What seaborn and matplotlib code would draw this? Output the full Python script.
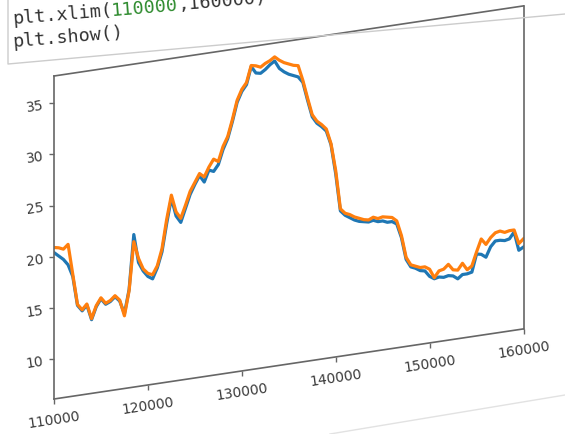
import numpy as np
import pandas as pd
import matplotlib
matplotlib.use('Agg')
import matplotlib.pyplot as plt
import matplotlib.transforms as mtransforms
from matplotlib.axes import Axes
from matplotlib.projections import register_projection
from matplotlib.lines import Line2D
import seaborn as sns

# the notebook screenshot is sheared: the right side sits higher than the left
SHEAR = 0.1493

# sampled series (every 500 steps from 110000 to 160000)
x_vals = np.arange(110000, 160001, 500)
blue_vals = [
    20.4, 20.0, 19.6, 19.0, 17.8, 14.9, 14.3, 14.8, 13.3, 14.5,
    15.2, 14.6, 14.8, 15.2, 14.7, 13.4, 15.7, 21.0, 18.2, 17.3,
    16.7, 16.4, 17.4, 18.9, 21.6, 24.0, 22.2, 21.5, 22.8, 24.1,
    25.0, 25.8, 25.1, 26.2, 26.0, 26.6, 28.0, 29.0, 30.6, 32.4,
    33.4, 34.0, 35.7, 35.0, 34.9, 35.2, 35.6, 35.9, 35.1, 34.7,
    34.4, 34.2, 34.0, 33.4, 31.6, 29.9, 29.2, 28.8, 28.3, 26.9,
    24.0, 20.3, 19.8, 19.5, 19.2, 19.0, 18.9, 18.8, 18.9, 18.7,
    18.7, 18.5, 18.5, 18.2, 16.8, 14.6, 13.8, 13.6, 13.3, 13.2,
    12.6, 12.3, 12.4, 12.3, 12.4, 12.3, 11.95, 12.3, 12.3, 12.4,
    14.1, 14.0, 13.65, 14.6, 15.1, 15.1, 15.0, 15.1, 15.7, 13.85,
    14.1,
]
orange_vals = [
    20.9, 20.8, 20.6, 21.0, 18.0, 15.0, 14.4, 14.9, 13.4, 14.6,
    15.3, 14.7, 14.9, 15.3, 14.8, 13.2, 15.6, 20.3, 18.6, 17.5,
    17.0, 16.8, 17.6, 19.2, 22.0, 24.3, 22.6, 21.9, 23.1, 24.4,
    25.2, 26.0, 25.6, 26.5, 27.2, 26.9, 28.3, 29.2, 30.8, 32.6,
    33.6, 34.2, 35.8, 35.7, 35.5, 35.8, 36.0, 36.3, 35.9, 35.6,
    35.4, 35.2, 35.1, 33.6, 31.8, 30.1, 29.4, 29.0, 28.5, 27.0,
    24.3, 20.5, 20.0, 19.8, 19.5, 19.3, 19.1, 19.0, 19.2, 19.0,
    19.1, 19.0, 18.9, 18.5, 17.0, 14.8, 14.0, 13.8, 13.6, 13.6,
    13.3, 12.4, 13.0, 13.1, 13.5, 12.9, 12.8, 13.4, 12.7, 13.0,
    14.3, 15.5, 14.9, 15.5, 15.9, 16.0, 15.8, 15.9, 15.9, 14.5,
    14.9,
]
x_limits = (110000, 160000)
y_limits = (6.1, 37.65)

code_prefix = 'plt.xlim('
code_number = '110000'
code_rest = ',160000)'
code_show = 'plt.show()'


class ShearAxes(Axes):
    name = 'shear'

    def _set_lim_and_transforms(self):
        super()._set_lim_and_transforms()
        shear = mtransforms.Affine2D().skew(0, np.arctan(SHEAR))
        base_axes = self.transAxes
        base_data = self.transData
        base_x = self._xaxis_transform
        base_y = self._yaxis_transform
        self.transAxes = base_axes + shear
        self.transData = base_data + shear
        self._xaxis_transform = base_x + shear
        self._yaxis_transform = base_y + shear


register_projection(ShearAxes)

df = pd.DataFrame({'x': x_vals, 'blue': blue_vals, 'orange': orange_vals})

W, H = 565, 435
fig = plt.figure(figsize=(W / 100, H / 100), dpi=100)
fig.patch.set_facecolor('white')

left_px = 54
shift = SHEAR * left_px
ax = fig.add_axes([left_px / W, (H - 400 - shift) / H, 469.5 / W, 323 / H],
                  projection='shear')

sns.lineplot(data=df, x='x', y='blue', ax=ax, color='#1f77b4', linewidth=2.3,
             estimator=None, legend=False)
sns.lineplot(data=df, x='x', y='orange', ax=ax, color='#ff7f0e', linewidth=2.3,
             estimator=None, legend=False)

ax.set_xlim(*x_limits)
ax.set_ylim(*y_limits)
ax.set_xlabel('')
ax.set_ylabel('')
ax.set_xticks(np.arange(110000, 160001, 10000))
ax.set_yticks([10, 15, 20, 25, 30, 35])
ax.ticklabel_format(style='plain', useOffset=False, axis='x')
for sp in ax.spines.values():
    sp.set_color('#666666')
    sp.set_linewidth(1.2)
ax.tick_params(labelsize=10, labelcolor='#3a3a3a', color='#666666',
               labelrotation=8.5, length=3.5, width=1.0)

# code cell above the output
def fig_xy(px, py):
    return px / W, 1 - py / H

rot = 4.8
mono = 'DejaVu Sans Mono'
fs = 13.2
x0, y0 = fig_xy(13, 24)
fig.text(x0, y0, code_prefix, rotation=rot, rotation_mode='anchor',
         ha='left', va='baseline', family=mono, fontsize=fs, color='#333333')
adv = 0.602 * fs
ang = np.deg2rad(rot)
for i, (txt, col) in enumerate([(code_number, '#2e8b2e'), (code_rest, '#333333')]):
    n = len(code_prefix) if i == 0 else len(code_prefix) + len(code_number)
    tr = mtransforms.offset_copy(fig.transFigure, fig,
                                 x=n * adv * np.cos(ang), y=n * adv * np.sin(ang),
                                 units='points')
    fig.text(x0, y0, txt, rotation=rot, rotation_mode='anchor', ha='left',
             va='baseline', family=mono, fontsize=fs, color=col, transform=tr)
x1, y1 = fig_xy(13, 47)
fig.text(x1, y1, code_show, rotation=rot, rotation_mode='anchor',
         ha='left', va='baseline', family=mono, fontsize=fs, color='#333333')

# cell border and faint separators
bx = [fig_xy(8, 0), fig_xy(8, 65), fig_xy(565, 15)]
fig.add_artist(Line2D([p[0] for p in bx], [p[1] for p in bx],
                      transform=fig.transFigure, color='#cccccc', linewidth=1.0))
sep = [fig_xy(330, 435), fig_xy(565, 396)]
fig.add_artist(Line2D([p[0] for p in sep], [p[1] for p in sep],
                      transform=fig.transFigure, color='#e2e2e2', linewidth=1.0))

fig.savefig('out.png', dpi=100)
